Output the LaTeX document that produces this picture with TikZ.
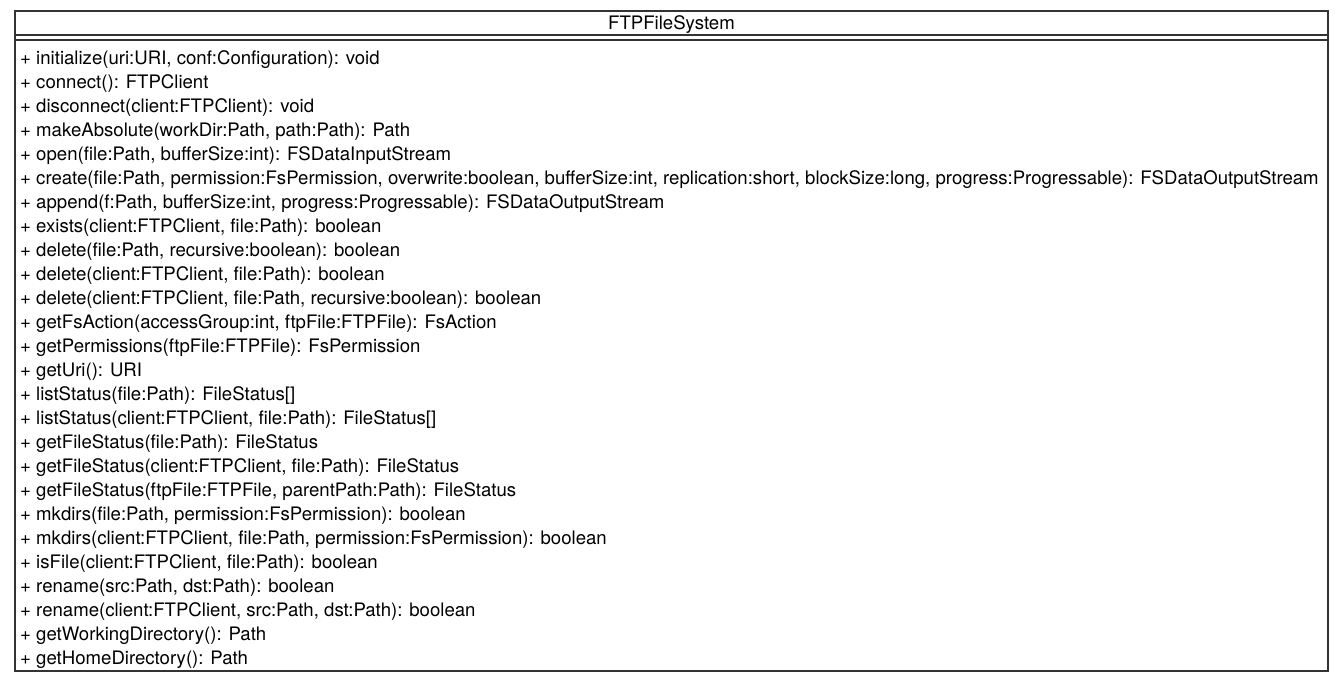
\documentclass[tikz,border=0pt]{standalone}
\usepackage{fontspec}
\setmainfont{TeX Gyre Heros}
\usetikzlibrary{positioning}

\tikzset{
  umlline/.style={draw=black!80, line width=1.3pt},
  optext/.style={anchor=base west, inner sep=0pt, font=\fontsize{18.6}{22}\selectfont},
}

\begin{document}
\begin{tikzpicture}[x=1pt,y=-1pt]
            \useasboundingbox (0,0) rectangle (1344,683);
            % class box
            \coordinate (nw) at (15,11);
            \coordinate (se) at (1328,671);
            \coordinate (sepa) at (15,35);
            \coordinate (sepb) at (15,40);
            \draw[umlline] (nw) rectangle (se);
            \draw[umlline] (sepa) -- (sepa -| se);
            \draw[umlline] (sepb) -- (sepb -| se);
            \node[optext, anchor=base] (title) at (671.5,29) {FTPFileSystem};
            % operations
            \foreach \op [count=\i] in {
                {+ initialize(uri:URI, conf:Configuration): void},
                {+ connect(): FTPClient},
                {+ disconnect(client:FTPClient): void},
                {+ makeAbsolute(workDir:Path, path:Path): Path},
                {+ open(file:Path, bufferSize:int): FSDataInputStream},
                {+ create(file:Path, permission:FsPermission, overwrite:boolean, bufferSize:int, replication:short, blockSize:long, progress:Progressable): FSDataOutputStream},
                {+ append(f:Path, bufferSize:int, progress:Progressable): FSDataOutputStream},
                {+ exists(client:FTPClient, file:Path): boolean},
                {+ delete(file:Path, recursive:boolean): boolean},
                {+ delete(client:FTPClient, file:Path): boolean},
                {+ delete(client:FTPClient, file:Path, recursive:boolean): boolean},
                {+ getFsAction(accessGroup:int, ftpFile:FTPFile): FsAction},
                {+ getPermissions(ftpFile:FTPFile): FsPermission},
                {+ getUri(): URI},
                {+ listStatus(file:Path): FileStatus[]},
                {+ listStatus(client:FTPClient, file:Path): FileStatus[]},
                {+ getFileStatus(file:Path): FileStatus},
                {+ getFileStatus(client:FTPClient, file:Path): FileStatus},
                {+ getFileStatus(ftpFile:FTPFile, parentPath:Path): FileStatus},
                {+ mkdirs(file:Path, permission:FsPermission): boolean},
                {+ mkdirs(client:FTPClient, file:Path, permission:FsPermission): boolean},
                {+ isFile(client:FTPClient, file:Path): boolean},
                {+ rename(src:Path, dst:Path): boolean},
                {+ rename(client:FTPClient, src:Path, dst:Path): boolean},
                {+ getWorkingDirectory(): Path},
                {+ getHomeDirectory(): Path}}
                \node[optext] (op\i) at (20,40+24*\i) {\op};
\end{tikzpicture}
\end{document}
